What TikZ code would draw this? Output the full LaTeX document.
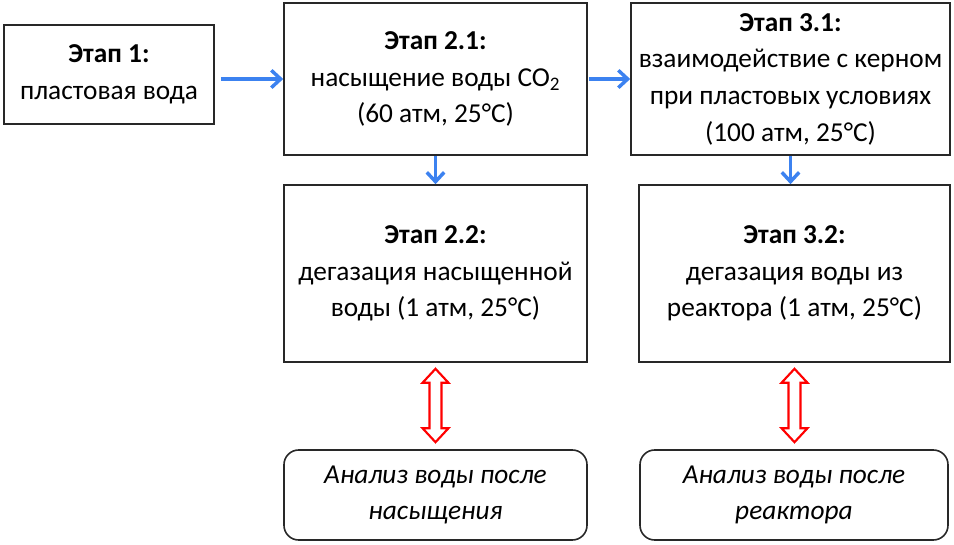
\documentclass[tikz,border=0pt]{standalone}
\usepackage{fontspec}
\setmainfont{Carlito}
\usetikzlibrary{arrows.meta,calc}

\definecolor{flowblue}{RGB}{60,130,240}
\definecolor{boxline}{RGB}{40,40,40}

\tikzset{
  stage/.style={draw=boxline, line width=1.2pt, inner sep=0pt, align=center,
    font=\fontsize{20.5}{27.5}\selectfont},
  probe/.style={stage, rounded corners=11pt, font=\fontsize{20.5}{27.5}\selectfont\itshape},
  flow/.style={flowblue, line width=2.6pt, -{Straight Barb[length=7pt,width=13pt]}},
  twoway/.style={red, line width=1.6pt, fill=white}
}

\newcommand{\dblarrow}[2]{%
  \draw[twoway] ($(#1)+(0,6)$) -- ++(13,14) -- ++(-7,0) -- ($(#2)+(6,-21)$)
    -- ++(7,0) -- ($(#2)+(0,-7)$) -- ++(-13,-14) -- ++(7,0)
    -- ($(#1)+(-6,20)$) -- ++(-7,0) -- cycle;}

\begin{document}
\begin{tikzpicture}[x=0.75pt,y=0.75pt,yscale=-1]
\useasboundingbox (0,0) rectangle (954,545);

%Shape: Rectangle [stage 1]
\node[stage, minimum width=157.5pt, minimum height=74.25pt] (s1) at (109,74.5)
  {\textbf{Этап 1:}\\пластовая вода};
%Shape: Rectangle [stage 2.1]
\node[stage, minimum width=227.25pt, minimum height=114pt] (s21) at (435.5,79)
  {\textbf{Этап 2.1:}\\насыщение воды CO\textsubscript{2}\\(60 атм, 25°C)};
%Shape: Rectangle [stage 3.1]
\node[stage, minimum width=239.25pt, minimum height=114pt] (s31) at (790.5,79)
  {\textbf{Этап 3.1:}\\взаимодействие с керном\\при пластовых условиях\\(100 атм, 25°C)};
%Shape: Rectangle [stage 2.2]
\node[stage, minimum width=227.25pt, minimum height=132.75pt] (s22) at (435.5,273.5)
  {\textbf{Этап 2.2:}\\дегазация насыщенной\\воды (1 атм, 25°C)};
%Shape: Rectangle [stage 3.2]
\node[stage, minimum width=233.25pt, minimum height=132.75pt] (s32) at (794.5,273.5)
  {\textbf{Этап 3.2:}\\дегазация воды из\\реактора (1 атм, 25°C)};

%Rounded Rect [analysis]
\node[probe, minimum width=227.25pt, minimum height=67.5pt] (a1) at (435.5,495)
  {Анализ воды после\\насыщения};
%Rounded Rect [analysis]
\node[probe, minimum width=231pt, minimum height=67.5pt] (a2) at (794,495)
  {Анализ воды после\\реактора};

%Straight Lines [flow]
\draw[flow] ($(s1.east |- s21.west)+(6,0)$) -- (s21.west);
\draw[flow] ($(s21.east)+(1,0)$) -- (s31.west);
\draw[flow] (s21.south) -- (s22.north);
\draw[flow] (s31.south) -- (s32.north -| s31.south);

%Shape: Up Down Arrow [red]
\dblarrow{s22.south}{a1.north}
\dblarrow{s32.south}{a2.north -| s32.south}
\end{tikzpicture}
\end{document}
